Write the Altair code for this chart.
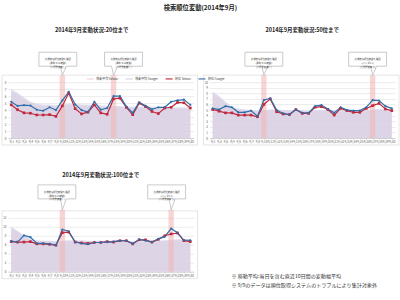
import altair as alt
import pandas as pd

# ---------------- data ----------------
dates = ["9/1", "9/2", "9/3", "9/4", "9/5", "9/6", "9/7", "9/8",
         "9/10", "9/11", "9/12", "9/13", "9/14", "9/15", "9/16", "9/17", "9/18", "9/19",
         "9/20", "9/21", "9/22", "9/23", "9/24", "9/25", "9/26", "9/27", "9/28", "9/29", "9/30"]
series_names = ["移動平均 Yahoo!", "移動平均 Google", "順位 Yahoo!", "順位 Google"]

main_title = "検索順位変動(2014年9月)"
subtitles = ["2014年9月変動状況:20位まで", "2014年9月変動状況:50位まで", "2014年9月変動状況:100位まで"]
notes = ["※ 移動平均:当日を含む直近10日間の変動幅平均",
         "※ 9/9のデータは順位取得システムのトラブルにより集計対象外"]

# panel 1 (20位まで)
p1_yahoo = [4.75, 4.05, 3.6, 3.55, 3.3, 3.3, 3.35, 3.1, 4.6, 6.45, 4.2, 3.45, 3.7, 4.75, 3.6,
            3.4, 5.6, 5.7, 4.4, 3.35, 5.0, 4.5, 3.8, 3.5, 4.3, 4.4, 5.1, 5.05, 4.3]
p1_google = [5.2, 4.6, 4.7, 4.65, 4.05, 3.9, 4.4, 4.0, 5.4, 6.6, 4.8, 4.0, 3.7, 5.2, 4.05,
             4.3, 6.0, 6.0, 4.5, 3.6, 5.1, 4.6, 4.1, 4.4, 4.4, 5.2, 5.4, 5.5, 4.75]
p1_ma_yahoo = [6.7, 6.2, 5.5, 5.0, 4.7, 4.6, 4.6, 4.5, 4.6, 4.7, 4.7, 4.6, 4.6, 4.5, 4.5,
               4.4, 4.4, 4.4, 4.3, 4.3, 4.3, 4.3, 4.3, 4.2, 4.2, 4.2, 4.2, 4.2, 4.2]
p1_ma_google = [7.0, 6.5, 5.8, 5.2, 4.9, 4.8, 4.8, 4.7, 4.8, 4.9, 4.9, 4.8, 4.8, 4.7, 4.7,
                4.6, 4.6, 4.6, 4.5, 4.5, 4.5, 4.5, 4.5, 4.4, 4.4, 4.4, 4.4, 4.4, 4.4]
p1_events = ["9/10", "9/18"]

# panel 2 (50位まで)
p2_yahoo = [5.1, 4.8, 4.5, 4.5, 4.1, 4.1, 4.1, 3.8, 6.0, 7.0, 4.7, 4.3, 4.2, 5.1, 4.4,
            4.4, 5.5, 5.6, 5.1, 4.1, 5.3, 4.9, 4.6, 4.6, 5.3, 5.8, 6.2, 5.2, 4.9]
p2_google = [5.3, 5.1, 5.7, 5.5, 4.6, 4.6, 4.9, 3.9, 6.8, 7.1, 5.0, 4.4, 4.2, 5.1, 4.5,
             4.5, 5.7, 5.9, 5.2, 4.5, 5.5, 5.0, 4.9, 4.9, 5.5, 6.8, 6.7, 5.7, 5.3]
p2_ma_yahoo = [8.0, 7.2, 6.3, 5.4, 5.1, 4.9, 4.8, 4.7, 4.8, 4.9, 4.9, 4.8, 4.8, 4.8, 4.8,
               4.7, 4.8, 4.8, 4.8, 4.8, 4.8, 4.7, 4.7, 4.7, 4.8, 4.9, 5.0, 5.0, 5.0]
p2_ma_google = [8.3, 7.5, 6.5, 5.6, 5.3, 5.1, 5.0, 4.9, 5.0, 5.1, 5.1, 5.0, 5.0, 5.0, 5.0,
                4.9, 5.0, 5.0, 5.0, 5.0, 5.0, 4.9, 4.9, 4.9, 5.0, 5.1, 5.2, 5.2, 5.2]
p2_events = ["9/10", "9/27"]

# panel 3 (100位まで)
p3_yahoo = [6.7, 6.6, 6.6, 6.7, 6.2, 6.2, 6.1, 5.9, 8.7, 8.8, 6.6, 6.4, 6.3, 6.5, 6.5,
            6.7, 6.6, 6.9, 6.9, 6.2, 7.1, 7.1, 6.6, 7.2, 8.0, 8.4, 8.6, 6.9, 6.7]
p3_google = [6.8, 6.6, 8.1, 7.7, 6.3, 6.3, 6.2, 5.9, 9.4, 9.0, 6.6, 6.3, 6.1, 6.5, 6.5,
             6.6, 6.7, 6.9, 6.9, 6.2, 7.2, 6.9, 6.6, 7.3, 7.8, 9.6, 8.7, 7.0, 7.0]
p3_ma_yahoo = [9.7, 8.8, 7.8, 7.1, 6.8, 6.7, 6.7, 6.6, 6.7, 6.8, 6.8, 6.8, 6.7, 6.7, 6.7,
               6.7, 6.7, 6.7, 6.7, 6.6, 6.6, 6.6, 6.6, 6.7, 6.8, 6.9, 7.0, 7.0, 7.0]
p3_ma_google = [10.0, 9.1, 8.1, 7.3, 7.0, 6.9, 6.9, 6.8, 6.9, 7.0, 7.0, 7.0, 6.9, 6.9, 6.9,
                6.9, 6.9, 6.9, 6.9, 6.8, 6.8, 6.8, 6.8, 6.9, 7.0, 7.1, 7.2, 7.2, 7.2]
p3_events = ["9/10", "9/27"]

callout_texts = {
    "9/10": ["大規模な順位変動を確認", "(通称:9/10変動)", "(公式発表無し)"],
    "9/18": ["大規模な順位変動を確認", "(通称:9/18変動)", "(公式発表無し)"],
    "9/27": ["大規模な順位変動を確認", "(パンダ4.1)", "(公式発表有り)"],
}

# ---------------- style ----------------
FONT = "Noto Sans CJK JP"
N = len(dates)
W = 186
BOX_W, BOX_H = 38, 14
colors = ["#f1d2d4", "#d4d1e8", "#c0283c", "#2f6eaa"]

label_expr = "[" + ",".join("'%s'" % d for d in dates) + "][datum.value]"
x_scale = alt.Scale(domain=[-0.5, N - 0.5], nice=False, zero=False)
x_axis = alt.Axis(values=list(range(N)), labelExpr=label_expr, title=None, grid=False,
                  labelFontSize=3, labelFont=FONT, labelColor="#595959", labelPadding=1,
                  labelAngle=0, labelOverlap=False, labelFlush=False, labelBound=False,
                  ticks=True, tickSize=1.5, tickColor="#bfbfbf", tickWidth=0.5,
                  domainColor="#bfbfbf", domainWidth=0.6)
color_scale = alt.Scale(domain=series_names, range=colors)
legend = alt.Legend(orient="none", legendX=78, legendY=-8, direction="horizontal", columns=4,
                    title=None, symbolType="stroke", symbolStrokeWidth=1.5, symbolSize=49,
                    labelFontSize=3, labelFont=FONT, labelColor="#404040", columnPadding=4,
                    labelOffset=1.5, padding=0, rowPadding=0, labelLimit=200)

one = pd.DataFrame({"k": [0]})


def bubble(off, gap, s=20.0):
    pts = [(off - BOX_W / 2, -gap), (-2, -gap), (0, 0), (4, -gap), (off + BOX_W / 2, -gap),
           (off + BOX_W / 2, -gap - BOX_H), (off - BOX_W / 2, -gap - BOX_H)]
    return "M" + " L".join("%.3f,%.3f" % (x / s, y / s) for x, y in pts) + " Z"


def text_at(txt, x, y, size, weight="normal", align="center", color="#222222"):
    return alt.Chart(one).mark_text(text=txt, fontSize=size, fontWeight=weight, font=FONT,
                                    align=align, baseline="middle", color=color).encode(
        x=alt.value(x), y=alt.value(y))


def panel(ry, rg, my, mg, ymax, step, H, subtitle, sub_x, sub_y, events, offsets, tip_y, gap,
          title=None):
    rows_ma, rows_rank = [], []
    for i in range(N):
        rows_ma.append(dict(idx=i, series=series_names[0], v=my[i]))
        rows_ma.append(dict(idx=i, series=series_names[1], v=mg[i]))
        rows_rank.append(dict(idx=i, series=series_names[2], v=ry[i]))
        rows_rank.append(dict(idx=i, series=series_names[3], v=rg[i]))
    df_ma = pd.DataFrame(rows_ma)
    df_rank = pd.DataFrame(rows_rank)
    ev = pd.DataFrame({"idx": [dates.index(d) for d in events]})

    y_axis = alt.Axis(values=list(range(0, ymax + 1, step)), title=None, grid=True,
                      gridColor="#d9d9d9", gridWidth=0.5, domain=False, ticks=False,
                      labelFontSize=3, labelPadding=2, labelColor="#595959", labelFont=FONT)
    X = alt.X("idx:Q", scale=x_scale, axis=x_axis)
    Y = alt.Y("v:Q", scale=alt.Scale(domain=[0, ymax], nice=False), axis=y_axis, stack=None)
    C = alt.Color("series:N", scale=color_scale, legend=legend)

    border = alt.Chart(one).mark_rect(fill="white", fillOpacity=0, stroke="#d9d9d9",
                                      strokeWidth=0.7).encode(
        x=alt.value(-6), x2=alt.value(W + 4), y=alt.value(-7), y2=alt.value(H + 7))
    areas = alt.Chart(df_ma).mark_area(opacity=0.75).encode(X, Y, C)
    bands = alt.Chart(ev).transform_calculate(
        a="datum.idx - 0.42", b="datum.idx + 0.42").mark_rect(
        color="#f3b3b3", opacity=0.55).encode(
        x=alt.X("a:Q", scale=x_scale, axis=x_axis), x2="b:Q",
        y=alt.value(tip_y), y2=alt.value(H))
    lines = alt.Chart(df_rank).mark_line(strokeWidth=1.2).encode(X, Y, C)
    points = alt.Chart(df_rank).mark_point(filled=True, size=7, opacity=1).encode(
        X, Y, C,
        shape=alt.Shape("series:N", scale=alt.Scale(domain=series_names[2:],
                                                     range=["square", "diamond"]), legend=None))
    layers = [border, areas, bands, lines, points]
    for d, off in zip(events, offsets):
        dfe = pd.DataFrame({"idx": [dates.index(d)]})
        layers.append(alt.Chart(dfe).mark_point(
            shape=bubble(off, gap), size=1600, filled=True, fill="white", stroke="#a6a6a6",
            strokeWidth=0.6, opacity=1).encode(
            x=alt.X("idx:Q", scale=x_scale, axis=x_axis), y=alt.value(tip_y)))
        layers.append(alt.Chart(dfe).mark_text(
            text=callout_texts[d], fontSize=2.4, lineHeight=3.8, font=FONT, color="#404040",
            align="center", baseline="middle", xOffset=off).encode(
            x=alt.X("idx:Q", scale=x_scale, axis=x_axis),
            y=alt.value(tip_y - gap - BOX_H / 2)))
    layers.append(text_at(subtitle, sub_x, sub_y, 5.5, "bold"))
    if title:
        layers.append(text_at(title, 193, -74, 6.3, "bold"))
    return alt.layer(*layers).properties(width=W, height=H)


p1 = panel(p1_yahoo, p1_google, p1_ma_yahoo, p1_ma_google, 8, 1, 56, subtitles[0], 84, -52,
           p1_events, [-4.5, 10], -7, 9, title=main_title)
p2 = panel(p2_yahoo, p2_google, p2_ma_yahoo, p2_ma_google, 10, 1, 56, subtitles[1], 93, -52,
           p2_events, [0, -5], -7, 9)
p3 = panel(p3_yahoo, p3_google, p3_ma_yahoo, p3_ma_google, 12, 2, 54, subtitles[2], 93, -43,
           p3_events, [-5.5, -4.5], -8, 11)
notes_chart = alt.layer(
    text_at(notes[0], 22, 58.7, 5.1, align="left", color="#333333"),
    text_at(notes[1], 22, 67, 5.1, align="left", color="#333333"),
).properties(width=W, height=54)

chart = alt.concat(p1, p2, p3, notes_chart, columns=2,
                   spacing={"row": 80, "column": 16}, bounds="flush").properties(
    padding={"left": 1, "top": 5, "right": 0, "bottom": 0},
    background="white",
).configure_view(stroke=None)

chart.save("out.html", embed_options={"renderer": "svg", "actions": False})
